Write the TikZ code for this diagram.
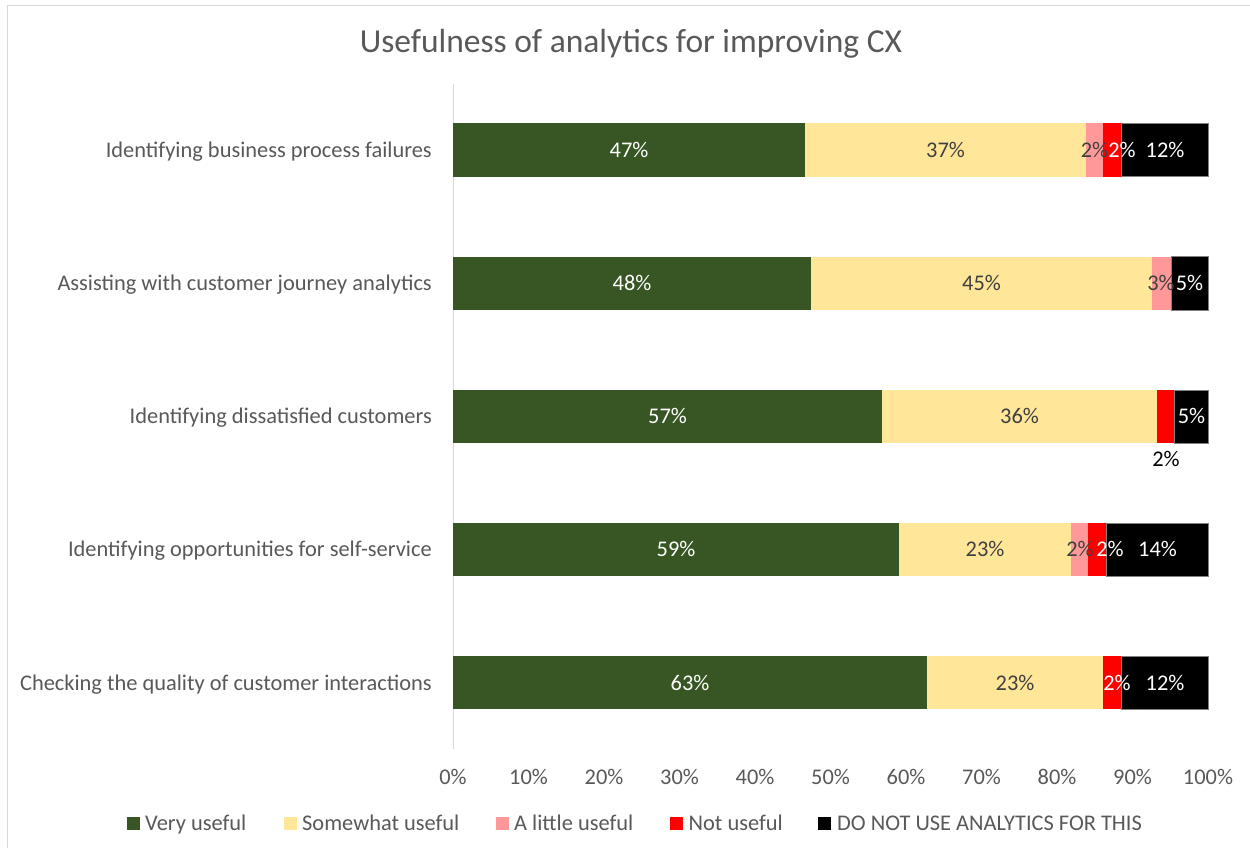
\documentclass[tikz,border=0pt]{standalone}
\usepackage{fontspec}
\setmainfont{Carlito}
\definecolor{vgreen}{HTML}{375623}
\definecolor{syellow}{HTML}{FFE699}
\definecolor{lpink}{HTML}{FF9999}
\definecolor{nred}{HTML}{FF0000}
\definecolor{txtgray}{HTML}{595959}
\definecolor{darktxt}{HTML}{404040}
\definecolor{axisgray}{HTML}{D9D9D9}
\definecolor{framegray}{HTML}{D9D9D9}
\tikzset{
  base/.style={font=\fontsize{22.4}{26}\selectfont, inner sep=0pt, anchor=base, yshift=-7.2pt},
  cat/.style={base, text=txtgray, anchor=base east},
  tick/.style={base, text=txtgray},
  wlab/.style={base, text=white},
  dlab/.style={base, text=darktxt},
  blab/.style={base, text=black},
  leg/.style={base, text=txtgray, anchor=base west},
  sq/.style={minimum size=13pt, inner sep=0pt, anchor=west},
  blk/.style={fill=black, draw=gray, line width=0.8pt},
}
\begin{document}
\begin{tikzpicture}[x=1pt,y=-1pt]
\useasboundingbox (0,0) rectangle (1250,848);
\fill[white] (0,0) rectangle (1250,848);
% frame (cropped: top and left visible)
\draw[framegray, line width=1.5pt] (7.5,848) -- (7.5,5.5) -- (1250,5.5);
% title
\node[text=txtgray, font=\fontsize{33.5}{38}\selectfont, inner sep=0pt, anchor=base, yshift=-10.8pt] (title) at (631,42) {Usefulness of analytics for improving CX};
% vertical axis
\coordinate (axtop) at (453,84);
\coordinate (axbot) at (453,749);
\draw[axisgray, line width=1pt] (axtop) -- (axbot);

% Row 1
\fill[vgreen] (453,123.5) rectangle (805,176.5);
\fill[syellow] (805,123.5) rectangle (1086,176.5);
\fill[lpink] (1086,123.5) rectangle (1103,176.5);
\fill[nred] (1103,123.5) rectangle (1121,176.5);
\draw[blk] (1121,123.5) rectangle (1208,176.5);
\node[cat] (c1) at (432,150) {Identifying business process failures};
\node[wlab] (l11) at (629,150) {47\%};
\node[dlab] (l12) at (945.5,150) {37\%};
\node[dlab] (l13) at (1094.5,150) {2\%};
\node[wlab] (l14) at (1122,150) {2\%};
\node[wlab] (l15) at (1165,150) {12\%};

% Row 2
\fill[vgreen] (453,256.7) rectangle (811,310);
\fill[syellow] (811,256.7) rectangle (1152,310);
\fill[lpink] (1152,256.7) rectangle (1171,310);
\draw[blk] (1171,256.7) rectangle (1208,310);
\node[cat] (c2) at (432,283.3) {Assisting with customer journey analytics};
\node[wlab] (l21) at (632,283.3) {48\%};
\node[dlab] (l22) at (981.5,283.3) {45\%};
\node[dlab] (l23) at (1161,283.3) {3\%};
\node[wlab] (l25) at (1189.5,283.3) {5\%};

% Row 3
\fill[vgreen] (453,390) rectangle (882,443);
\fill[syellow] (882,390) rectangle (1157,443);
\fill[nred] (1157,390) rectangle (1174,443);
\draw[blk] (1174,390) rectangle (1208,443);
\node[cat] (c3) at (432,416.5) {Identifying dissatisfied customers};
\node[wlab] (l31) at (667.5,416.5) {57\%};
\node[dlab] (l32) at (1019.5,416.5) {36\%};
\node[blab] (l34) at (1166,459) {2\%};
\node[wlab] (l35) at (1191.5,416.5) {5\%};

% Row 4
\fill[vgreen] (453,523.3) rectangle (899,576);
\fill[syellow] (899,523.3) rectangle (1071,576);
\fill[lpink] (1071,523.3) rectangle (1088,576);
\fill[nred] (1088,523.3) rectangle (1106,576);
\draw[blk] (1106,523.3) rectangle (1208,576);
\node[cat] (c4) at (432,549.7) {Identifying opportunities for self-service};
\node[wlab] (l41) at (676,549.7) {59\%};
\node[dlab] (l42) at (985,549.7) {23\%};
\node[dlab] (l43) at (1080,549.7) {2\%};
\node[wlab] (l44) at (1110,549.7) {2\%};
\node[wlab] (l45) at (1157.5,549.7) {14\%};

% Row 5
\fill[vgreen] (453,656) rectangle (927,709.3);
\fill[syellow] (927,656) rectangle (1103,709.3);
\fill[nred] (1103,656) rectangle (1121,709.3);
\draw[blk] (1121,656) rectangle (1208,709.3);
\node[cat] (c5) at (432,682.8) {Checking the quality of customer interactions};
\node[wlab] (l51) at (690,682.8) {63\%};
\node[dlab] (l52) at (1015,682.8) {23\%};
\node[wlab] (l54) at (1117,682.8) {2\%};
\node[wlab] (l55) at (1165,682.8) {12\%};

% x-axis tick labels
\foreach \i/\t in {0/0,1/10,2/20,3/30,4/40,5/50,6/60,7/70,8/80,9/90,10/100}{
  \node[tick] (t\i) at (453+75.5*\i,777) {\t\%};
}

% legend
\node[sq, fill=vgreen] (s1) at (127,823) {};
\node[leg] (g1) at (145,823) {Very useful};
\node[sq, fill=syellow] (s2) at (284,823) {};
\node[leg] (g2) at (302,823) {Somewhat useful};
\node[sq, fill=lpink] (s3) at (496,823) {};
\node[leg] (g3) at (514,823) {A little useful};
\node[sq, fill=nred] (s4) at (670,823) {};
\node[leg] (g4) at (688.5,823) {Not useful};
\node[sq, fill=black] (s5) at (818,823) {};
\node[leg] (g5) at (837,823) {DO NOT USE ANALYTICS FOR THIS};
\end{tikzpicture}
\end{document}
